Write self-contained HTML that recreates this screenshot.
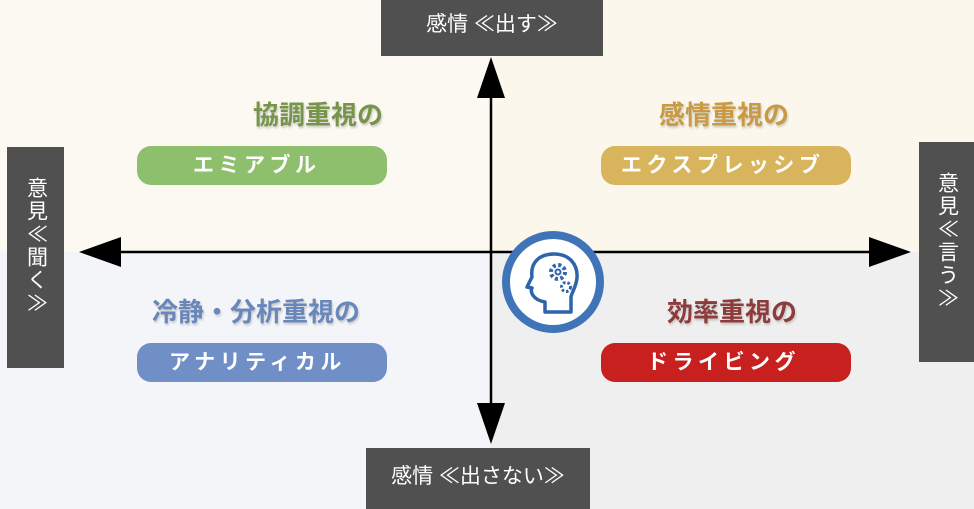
<!DOCTYPE html>
<html><head><meta charset="utf-8"><style>
body{margin:0;width:974px;height:509px;overflow:hidden;position:relative;font-family:"Liberation Sans","Noto Sans CJK JP",sans-serif;background:#f1f2f4}
.q{position:absolute}
.box{position:absolute;background:#505050;color:#fff;font-size:21px}
.t{position:absolute;font-size:26px;line-height:30px;font-weight:bold;white-space:nowrap;text-shadow:1px 2px 2px rgba(0,0,0,.18)}
.p{position:absolute;width:250px;height:39px;border-radius:14px;color:#fff;font-size:21px;font-weight:bold;letter-spacing:4.5px;line-height:39px;white-space:nowrap;box-sizing:border-box}
.v{writing-mode:vertical-rl;text-orientation:upright;letter-spacing:2px}
</style></head><body>
<div class="q" style="left:0;top:0;width:491px;height:252px;background:#fbf9f1"></div>
<div class="q" style="left:491px;top:0;width:483px;height:252px;background:#fbf7ec"></div>
<div class="q" style="left:0;top:252px;width:491px;height:257px;background:#f3f5f9"></div>
<div class="q" style="left:491px;top:252px;width:483px;height:257px;background:#efefef"></div>

<svg class="q" style="left:0;top:0" width="974" height="509">
<line x1="100" y1="252" x2="890" y2="252" stroke="#000" stroke-width="2.5"/>
<line x1="491" y1="78" x2="491" y2="425" stroke="#000" stroke-width="2.5"/>
<polygon points="79,252 121,237 121,267" fill="#000"/>
<polygon points="911,252 869,237 869,267" fill="#000"/>
<polygon points="491,57 477,98 505,98" fill="#000"/>
<polygon points="491,444 477,403 505,403" fill="#000"/>
<circle cx="553" cy="282" r="47" fill="#fff" stroke="#3f74b8" stroke-width="8"/>
<g fill="none" stroke="#2f63aa" stroke-width="3.5" stroke-linejoin="round">
<path d="M545,312 L545,302 C533,300 530,292 532,288 L527,287 L532,277 C530,262 540,254 554,254 C569,254 578,264 577,278 C576,287 572,292 571,297 L571,312 Z"/>
</g>
<circle cx="558" cy="272" r="7" fill="none" stroke="#2f63aa" stroke-width="4" stroke-dasharray="3 2.5"/>
<circle cx="558" cy="272" r="2.5" fill="none" stroke="#2f63aa" stroke-width="2"/>
<circle cx="566" cy="287" r="4.5" fill="none" stroke="#2f63aa" stroke-width="3" stroke-dasharray="2.5 2"/>
</svg>

<div class="box" style="left:381px;top:0;width:222px;height:56px;line-height:50px;text-align:center">感情 ≪出す≫</div>
<div class="box" style="left:366px;top:448px;width:224px;height:61px;line-height:58px;text-align:center">感情 ≪出さない≫</div>
<div class="box v" style="left:7px;top:147px;width:57px;height:221px;display:flex;align-items:center;justify-content:flex-start;padding-top:30px;box-sizing:border-box">意見≪聞く≫</div>
<div class="box v" style="left:919px;top:142px;width:55px;height:220px;display:flex;align-items:center;padding-top:30px;box-sizing:border-box">意見≪言う≫</div>

<div class="t" style="left:253px;top:100px;color:#76954a">協調重視の</div>
<div class="p" style="left:137px;top:146px;background:#8dbf6c;padding-left:56px">エミアブル</div>
<div class="t" style="left:659px;top:100px;color:#c99a43">感情重視の</div>
<div class="p" style="left:601px;top:146px;background:#d8b45c;padding-left:20px">エクスプレッシブ</div>
<div class="t" style="left:152px;top:297px;color:#6987bb">冷静・分析重視の</div>
<div class="p" style="left:137px;top:343px;background:#6f8fc6;padding-left:32px">アナリティカル</div>
<div class="t" style="left:667px;top:297px;color:#8e3b3b">効率重視の</div>
<div class="p" style="left:601px;top:343px;background:#c81f1f;padding-left:46px">ドライビング</div>
</body></html>
